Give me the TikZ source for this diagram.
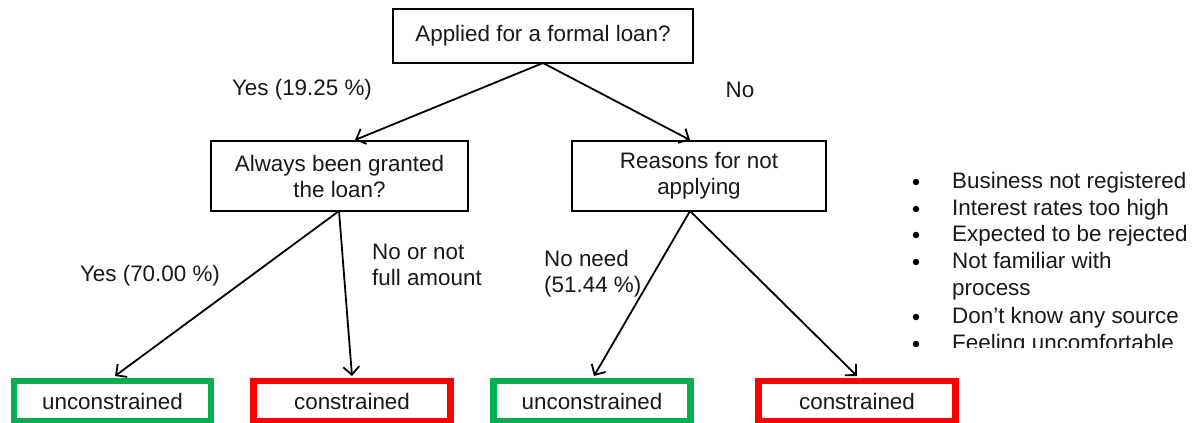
\documentclass[tikz,border=0pt]{standalone}
\usepackage{fontspec}
\setmainfont{Liberation Sans}
\usetikzlibrary{arrows.meta}
\definecolor{okgreen}{RGB}{0,176,80}
\definecolor{badred}{RGB}{255,0,0}
\begin{document}
\begin{tikzpicture}[x=1pt,y=-1pt,
  every node/.style={font=\fontsize{22.4}{26}\selectfont, text=black!90},
  qbox/.style={draw=black, line width=1.3pt, fill=white, align=center, inner sep=0pt},
  endbox/.style={line width=6.5pt, fill=white, inner sep=0pt, minimum height=40pt},
  good/.style={endbox, draw=okgreen},
  bad/.style={endbox, draw=badred},
  conn/.style={line width=1.8pt, -{Straight Barb[length=8pt,width=16pt,line width=1.8pt]}},
  lbl/.style={align=left, inner sep=0pt},
  blt/.style={circle, fill=black, inner sep=0pt, minimum size=6.5pt},
  itm/.style={inner sep=0pt, anchor=base west}]
\useasboundingbox (0,0) rectangle (1195,423);
\fill[white] (0,0) rectangle (1195,423);

\node[qbox, minimum width=300pt, minimum height=54pt] (top) at (543,36) {Applied for a formal loan?};
\node[qbox, minimum width=257pt, minimum height=70pt] (always) at (339.5,176) {Always been granted\\the loan?};
\node[qbox, minimum width=254pt, minimum height=70pt] (reasons) at (699,176) {Reasons for not\\applying};

\node[good, minimum width=197pt] (u1) at (112.5,401) {unconstrained};
\node[bad, minimum width=197pt] (c1) at (352,401) {constrained};
\node[good, minimum width=197pt] (u2) at (592,401) {unconstrained};
\node[bad, minimum width=197pt] (c2) at (857,401) {constrained};

\coordinate (topb) at (543,63);
\coordinate (alwt) at (355,140);
\coordinate (reat) at (690,140);
\coordinate (alwb) at (339,211);
\coordinate (reab) at (690,211);
\coordinate (u1t) at (115,376);
\coordinate (c1t) at (352,376);
\coordinate (u2t) at (594,376);
\coordinate (c2t) at (857,376);

\draw[conn] (topb) -- (alwt);
\draw[conn] (topb) -- (reat);
\draw[conn] (alwb) -- (u1t);
\draw[conn] (alwb) -- (c1t);
\draw[conn] (reab) -- (u2t);
\draw[conn] (reab) -- (c2t);

\node[lbl] (yes1) at (302,90) {Yes (19.25 \%)};
\node[lbl] (no1) at (740,90) {No};
\node[lbl] (yes2) at (150,276) {Yes (70.00 \%)};
\node[lbl, anchor=west] (no2) at (372,265) {No or not\\full amount};
\node[lbl, anchor=west] (noneed) at (544,274) {No need\\(51.44 \%)};

\begin{scope}
\clip (890,160) rectangle (1195,347);
\foreach \i/\t/\y in {1/Business not registered/188, 2/Interest rates too high/215, 3/Expected to be rejected/241, 4/Not familiar with/268, 6/Don’t know any source/323, 7/Feeling uncomfortable/350} {
  \node[blt] (b\i) at (916,\y-6) {};
  \node[itm] (t\i) at (952,\y) {\t};
}
\node[itm] (t5) at (952,295) {process};
\end{scope}
\end{tikzpicture}
\end{document}
